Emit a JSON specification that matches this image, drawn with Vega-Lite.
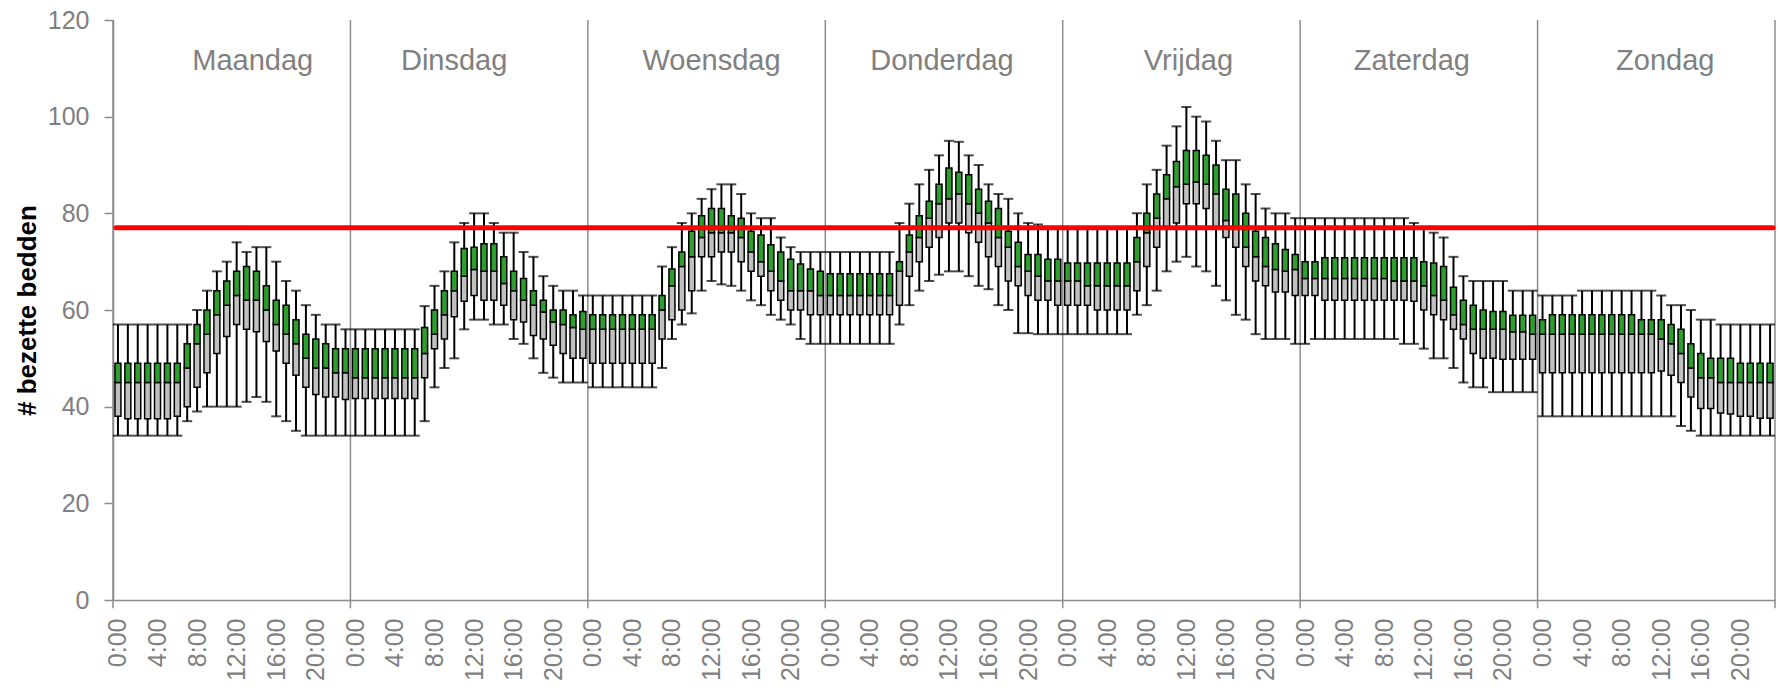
{
  "$schema": "https://vega.github.io/schema/vega-lite/v6.json",
  "width": 1662,
  "height": 580,
  "autosize": {"type": "none"},
  "padding": {"left": 113, "top": 20, "right": 10, "bottom": 88},
  "background": "white",
  "config": {"view": {"stroke": null}, "font": "Liberation Sans"},
  "datasets": {
    "bounds": [{"b": -0.5}, {"b": 23.5}, {"b": 47.5}, {"b": 71.5}, {"b": 95.5}, {"b": 119.5}, {"b": 143.5}, {"b": 167.5}],
    "limit": [{"v": 77}],
    "hours": [
      {"t":0,"day":"Maandag","lo":34,"q1":38,"med":45,"q3":49,"hi":57},
      {"t":1,"day":"Maandag","lo":34,"q1":37.5,"med":45,"q3":49,"hi":57},
      {"t":2,"day":"Maandag","lo":34,"q1":37.5,"med":45,"q3":49,"hi":57},
      {"t":3,"day":"Maandag","lo":34,"q1":37.5,"med":45,"q3":49,"hi":57},
      {"t":4,"day":"Maandag","lo":34,"q1":37.5,"med":45,"q3":49,"hi":57},
      {"t":5,"day":"Maandag","lo":34,"q1":37.5,"med":45,"q3":49,"hi":57},
      {"t":6,"day":"Maandag","lo":34,"q1":38,"med":45,"q3":49,"hi":57},
      {"t":7,"day":"Maandag","lo":37,"q1":40,"med":48,"q3":53,"hi":57},
      {"t":8,"day":"Maandag","lo":39,"q1":44,"med":53,"q3":57,"hi":60},
      {"t":9,"day":"Maandag","lo":40,"q1":47,"med":55,"q3":60,"hi":64},
      {"t":10,"day":"Maandag","lo":40,"q1":51,"med":59,"q3":64,"hi":68},
      {"t":11,"day":"Maandag","lo":40,"q1":54.5,"med":61,"q3":66,"hi":70},
      {"t":12,"day":"Maandag","lo":40,"q1":57,"med":63,"q3":68,"hi":74},
      {"t":13,"day":"Maandag","lo":41,"q1":56,"med":62,"q3":69,"hi":72},
      {"t":14,"day":"Maandag","lo":42,"q1":55.5,"med":62,"q3":68,"hi":73},
      {"t":15,"day":"Maandag","lo":41,"q1":53.5,"med":60,"q3":65,"hi":73},
      {"t":16,"day":"Maandag","lo":38,"q1":51.5,"med":57,"q3":62,"hi":70},
      {"t":17,"day":"Maandag","lo":37,"q1":49,"med":55,"q3":61,"hi":66},
      {"t":18,"day":"Maandag","lo":35,"q1":46.5,"med":53,"q3":58,"hi":64},
      {"t":19,"day":"Maandag","lo":34,"q1":44,"med":50,"q3":55,"hi":61},
      {"t":20,"day":"Maandag","lo":34,"q1":42.5,"med":48,"q3":54,"hi":59},
      {"t":21,"day":"Maandag","lo":34,"q1":42,"med":48,"q3":53,"hi":57},
      {"t":22,"day":"Maandag","lo":34,"q1":42,"med":47,"q3":52,"hi":57},
      {"t":23,"day":"Maandag","lo":34,"q1":41.5,"med":47,"q3":52,"hi":56},
      {"t":24,"day":"Dinsdag","lo":34,"q1":41.7,"med":46,"q3":52,"hi":56},
      {"t":25,"day":"Dinsdag","lo":34,"q1":41.7,"med":46,"q3":52,"hi":56},
      {"t":26,"day":"Dinsdag","lo":34,"q1":41.7,"med":46,"q3":52,"hi":56},
      {"t":27,"day":"Dinsdag","lo":34,"q1":41.7,"med":46,"q3":52,"hi":56},
      {"t":28,"day":"Dinsdag","lo":34,"q1":41.7,"med":46,"q3":52,"hi":56},
      {"t":29,"day":"Dinsdag","lo":34,"q1":41.7,"med":46,"q3":52,"hi":56},
      {"t":30,"day":"Dinsdag","lo":34,"q1":41.7,"med":46,"q3":52,"hi":56},
      {"t":31,"day":"Dinsdag","lo":37,"q1":46,"med":51,"q3":56.4,"hi":60.8},
      {"t":32,"day":"Dinsdag","lo":44,"q1":52,"med":55,"q3":60,"hi":65},
      {"t":33,"day":"Dinsdag","lo":48,"q1":54,"med":59,"q3":64,"hi":68},
      {"t":34,"day":"Dinsdag","lo":50,"q1":58.6,"med":64,"q3":68,"hi":74},
      {"t":35,"day":"Dinsdag","lo":56,"q1":61.8,"med":67,"q3":72.7,"hi":78},
      {"t":36,"day":"Dinsdag","lo":58,"q1":63,"med":68.4,"q3":73,"hi":80},
      {"t":37,"day":"Dinsdag","lo":58,"q1":62,"med":68,"q3":73.7,"hi":80},
      {"t":38,"day":"Dinsdag","lo":57,"q1":62,"med":68,"q3":73.7,"hi":78},
      {"t":39,"day":"Dinsdag","lo":57,"q1":61,"med":65.5,"q3":71,"hi":76},
      {"t":40,"day":"Dinsdag","lo":54,"q1":58,"med":64,"q3":68,"hi":76},
      {"t":41,"day":"Dinsdag","lo":53,"q1":57.5,"med":62,"q3":66.5,"hi":72},
      {"t":42,"day":"Dinsdag","lo":50,"q1":54.7,"med":61,"q3":64,"hi":71},
      {"t":43,"day":"Dinsdag","lo":47,"q1":54,"med":59.6,"q3":62,"hi":67},
      {"t":44,"day":"Dinsdag","lo":46,"q1":52.7,"med":57.5,"q3":60,"hi":65},
      {"t":45,"day":"Dinsdag","lo":45,"q1":51,"med":57,"q3":60,"hi":64},
      {"t":46,"day":"Dinsdag","lo":45,"q1":50,"med":56.4,"q3":59,"hi":64},
      {"t":47,"day":"Dinsdag","lo":45,"q1":50,"med":56,"q3":59.7,"hi":63},
      {"t":48,"day":"Woensdag","lo":44,"q1":49,"med":56,"q3":59,"hi":63},
      {"t":49,"day":"Woensdag","lo":44,"q1":49,"med":56,"q3":59,"hi":63},
      {"t":50,"day":"Woensdag","lo":44,"q1":49,"med":56,"q3":59,"hi":63},
      {"t":51,"day":"Woensdag","lo":44,"q1":49,"med":56,"q3":59,"hi":63},
      {"t":52,"day":"Woensdag","lo":44,"q1":49,"med":56,"q3":59,"hi":63},
      {"t":53,"day":"Woensdag","lo":44,"q1":49,"med":56,"q3":59,"hi":63},
      {"t":54,"day":"Woensdag","lo":44,"q1":49,"med":56,"q3":59,"hi":63},
      {"t":55,"day":"Woensdag","lo":48,"q1":54,"med":60,"q3":63,"hi":69},
      {"t":56,"day":"Woensdag","lo":54,"q1":58,"med":65,"q3":68.5,"hi":73},
      {"t":57,"day":"Woensdag","lo":57,"q1":60,"med":69,"q3":72,"hi":78},
      {"t":58,"day":"Woensdag","lo":59.3,"q1":64,"med":71,"q3":76.3,"hi":80},
      {"t":59,"day":"Woensdag","lo":64,"q1":71,"med":75,"q3":79.5,"hi":83},
      {"t":60,"day":"Woensdag","lo":66,"q1":71,"med":76,"q3":81,"hi":85},
      {"t":61,"day":"Woensdag","lo":65.3,"q1":72,"med":76,"q3":81,"hi":86},
      {"t":62,"day":"Woensdag","lo":65,"q1":72,"med":76,"q3":79.5,"hi":86},
      {"t":63,"day":"Woensdag","lo":64,"q1":70,"med":75,"q3":79,"hi":84},
      {"t":64,"day":"Woensdag","lo":62,"q1":68,"med":72,"q3":76.3,"hi":80},
      {"t":65,"day":"Woensdag","lo":61,"q1":67,"med":70,"q3":75.5,"hi":79},
      {"t":66,"day":"Woensdag","lo":59,"q1":64,"med":68,"q3":73.5,"hi":79},
      {"t":67,"day":"Woensdag","lo":58,"q1":62,"med":66,"q3":72,"hi":75},
      {"t":68,"day":"Woensdag","lo":57,"q1":60,"med":64,"q3":70.5,"hi":73},
      {"t":69,"day":"Woensdag","lo":54,"q1":60,"med":64,"q3":69.5,"hi":72},
      {"t":70,"day":"Woensdag","lo":53,"q1":59,"med":64,"q3":68.5,"hi":72},
      {"t":71,"day":"Woensdag","lo":53,"q1":59,"med":63,"q3":68,"hi":72},
      {"t":72,"day":"Donderdag","lo":53,"q1":59,"med":63,"q3":67.5,"hi":72},
      {"t":73,"day":"Donderdag","lo":53,"q1":59,"med":63,"q3":67.5,"hi":72},
      {"t":74,"day":"Donderdag","lo":53,"q1":59,"med":63,"q3":67.5,"hi":72},
      {"t":75,"day":"Donderdag","lo":53,"q1":59,"med":63,"q3":67.5,"hi":72},
      {"t":76,"day":"Donderdag","lo":53,"q1":59,"med":63,"q3":67.5,"hi":72},
      {"t":77,"day":"Donderdag","lo":53,"q1":59,"med":63,"q3":67.5,"hi":72},
      {"t":78,"day":"Donderdag","lo":53,"q1":59,"med":63,"q3":67.5,"hi":72},
      {"t":79,"day":"Donderdag","lo":57,"q1":61,"med":68,"q3":70,"hi":78},
      {"t":80,"day":"Donderdag","lo":61,"q1":67,"med":72,"q3":75.5,"hi":82},
      {"t":81,"day":"Donderdag","lo":64,"q1":70,"med":75,"q3":79.5,"hi":86},
      {"t":82,"day":"Donderdag","lo":66,"q1":73,"med":79,"q3":82.5,"hi":89},
      {"t":83,"day":"Donderdag","lo":67.3,"q1":75,"med":82,"q3":86,"hi":92},
      {"t":84,"day":"Donderdag","lo":68,"q1":78,"med":83,"q3":89.4,"hi":95},
      {"t":85,"day":"Donderdag","lo":68,"q1":78,"med":84,"q3":88.5,"hi":94.8},
      {"t":86,"day":"Donderdag","lo":67,"q1":76,"med":82,"q3":88,"hi":92},
      {"t":87,"day":"Donderdag","lo":65,"q1":74,"med":80,"q3":85,"hi":90},
      {"t":88,"day":"Donderdag","lo":64.3,"q1":71,"med":78,"q3":82.5,"hi":86},
      {"t":89,"day":"Donderdag","lo":61,"q1":69,"med":75,"q3":81,"hi":84},
      {"t":90,"day":"Donderdag","lo":60,"q1":66,"med":73,"q3":76.3,"hi":83},
      {"t":91,"day":"Donderdag","lo":55.2,"q1":65,"med":69,"q3":74,"hi":80},
      {"t":92,"day":"Donderdag","lo":55.2,"q1":63,"med":68,"q3":71.5,"hi":78},
      {"t":93,"day":"Donderdag","lo":55,"q1":62,"med":67,"q3":71.5,"hi":77.7},
      {"t":94,"day":"Donderdag","lo":55,"q1":62,"med":66,"q3":70.5,"hi":77.2},
      {"t":95,"day":"Donderdag","lo":55,"q1":61,"med":66,"q3":70.5,"hi":77.2},
      {"t":96,"day":"Vrijdag","lo":55,"q1":61,"med":66,"q3":69.7,"hi":77},
      {"t":97,"day":"Vrijdag","lo":55,"q1":61,"med":66,"q3":69.7,"hi":77},
      {"t":98,"day":"Vrijdag","lo":55,"q1":61,"med":65,"q3":69.7,"hi":77},
      {"t":99,"day":"Vrijdag","lo":55,"q1":60,"med":65,"q3":69.7,"hi":77},
      {"t":100,"day":"Vrijdag","lo":55,"q1":60,"med":65,"q3":69.7,"hi":77},
      {"t":101,"day":"Vrijdag","lo":55,"q1":60,"med":65,"q3":69.7,"hi":77},
      {"t":102,"day":"Vrijdag","lo":55,"q1":60,"med":65,"q3":69.7,"hi":77},
      {"t":103,"day":"Vrijdag","lo":59,"q1":64,"med":70,"q3":75,"hi":80},
      {"t":104,"day":"Vrijdag","lo":61,"q1":69,"med":76,"q3":80,"hi":86},
      {"t":105,"day":"Vrijdag","lo":64,"q1":73,"med":79,"q3":84,"hi":89},
      {"t":106,"day":"Vrijdag","lo":68,"q1":77,"med":83,"q3":88,"hi":94},
      {"t":107,"day":"Vrijdag","lo":70,"q1":78,"med":85.5,"q3":90.7,"hi":98},
      {"t":108,"day":"Vrijdag","lo":71,"q1":82,"med":86,"q3":93,"hi":102},
      {"t":109,"day":"Vrijdag","lo":69,"q1":82,"med":86.5,"q3":93,"hi":100},
      {"t":110,"day":"Vrijdag","lo":68,"q1":81,"med":86,"q3":92,"hi":99},
      {"t":111,"day":"Vrijdag","lo":65,"q1":77,"med":84,"q3":90,"hi":95},
      {"t":112,"day":"Vrijdag","lo":62,"q1":75,"med":78.5,"q3":85,"hi":91},
      {"t":113,"day":"Vrijdag","lo":59,"q1":73,"med":77,"q3":84,"hi":91},
      {"t":114,"day":"Vrijdag","lo":58,"q1":69,"med":73,"q3":80,"hi":86},
      {"t":115,"day":"Vrijdag","lo":55,"q1":66,"med":71,"q3":76.3,"hi":84},
      {"t":116,"day":"Vrijdag","lo":54,"q1":65,"med":69,"q3":75,"hi":81},
      {"t":117,"day":"Vrijdag","lo":54,"q1":63.7,"med":68.4,"q3":73.7,"hi":80},
      {"t":118,"day":"Vrijdag","lo":54,"q1":63.7,"med":68,"q3":72.5,"hi":80},
      {"t":119,"day":"Vrijdag","lo":53,"q1":63,"med":68.4,"q3":71.5,"hi":79},
      {"t":120,"day":"Zaterdag","lo":53,"q1":63,"med":66.5,"q3":70,"hi":79},
      {"t":121,"day":"Zaterdag","lo":54,"q1":63,"med":66.5,"q3":70,"hi":79},
      {"t":122,"day":"Zaterdag","lo":54,"q1":62,"med":66.5,"q3":70.8,"hi":79},
      {"t":123,"day":"Zaterdag","lo":54,"q1":62,"med":66.5,"q3":70.8,"hi":79},
      {"t":124,"day":"Zaterdag","lo":54,"q1":62,"med":66.5,"q3":70.8,"hi":79},
      {"t":125,"day":"Zaterdag","lo":54,"q1":62,"med":66.5,"q3":70.8,"hi":79},
      {"t":126,"day":"Zaterdag","lo":54,"q1":62,"med":66.5,"q3":70.8,"hi":79},
      {"t":127,"day":"Zaterdag","lo":54,"q1":62,"med":66.5,"q3":70.8,"hi":79},
      {"t":128,"day":"Zaterdag","lo":54,"q1":62,"med":66.5,"q3":70.8,"hi":79},
      {"t":129,"day":"Zaterdag","lo":54,"q1":62,"med":66,"q3":70.8,"hi":79},
      {"t":130,"day":"Zaterdag","lo":53,"q1":62,"med":66,"q3":70.8,"hi":79},
      {"t":131,"day":"Zaterdag","lo":53,"q1":61.8,"med":66,"q3":70.8,"hi":78},
      {"t":132,"day":"Zaterdag","lo":52,"q1":60,"med":65,"q3":70,"hi":77},
      {"t":133,"day":"Zaterdag","lo":50,"q1":59,"med":63,"q3":69.7,"hi":76},
      {"t":134,"day":"Zaterdag","lo":50,"q1":58,"med":62,"q3":69,"hi":75},
      {"t":135,"day":"Zaterdag","lo":48,"q1":56,"med":59,"q3":64.7,"hi":71},
      {"t":136,"day":"Zaterdag","lo":45,"q1":54,"med":57,"q3":62,"hi":67},
      {"t":137,"day":"Zaterdag","lo":44,"q1":51,"med":56,"q3":61,"hi":66},
      {"t":138,"day":"Zaterdag","lo":44,"q1":50,"med":56,"q3":60,"hi":66},
      {"t":139,"day":"Zaterdag","lo":43,"q1":50,"med":56,"q3":59.7,"hi":66},
      {"t":140,"day":"Zaterdag","lo":43,"q1":49.8,"med":56,"q3":59.7,"hi":66},
      {"t":141,"day":"Zaterdag","lo":43,"q1":49.8,"med":55.5,"q3":58.9,"hi":64},
      {"t":142,"day":"Zaterdag","lo":43,"q1":49.8,"med":55.5,"q3":58.9,"hi":64},
      {"t":143,"day":"Zaterdag","lo":43,"q1":49.8,"med":55,"q3":58.9,"hi":64},
      {"t":144,"day":"Zondag","lo":38,"q1":47,"med":55,"q3":58,"hi":63},
      {"t":145,"day":"Zondag","lo":38,"q1":47,"med":55,"q3":59,"hi":63},
      {"t":146,"day":"Zondag","lo":38,"q1":47,"med":55,"q3":59,"hi":63},
      {"t":147,"day":"Zondag","lo":38,"q1":47,"med":55,"q3":59,"hi":63},
      {"t":148,"day":"Zondag","lo":38,"q1":47,"med":55,"q3":59,"hi":64},
      {"t":149,"day":"Zondag","lo":38,"q1":47,"med":55,"q3":59,"hi":64},
      {"t":150,"day":"Zondag","lo":38,"q1":47,"med":55,"q3":59,"hi":64},
      {"t":151,"day":"Zondag","lo":38,"q1":47,"med":55,"q3":59,"hi":64},
      {"t":152,"day":"Zondag","lo":38,"q1":47,"med":55,"q3":59,"hi":64},
      {"t":153,"day":"Zondag","lo":38,"q1":47,"med":55,"q3":59,"hi":64},
      {"t":154,"day":"Zondag","lo":38,"q1":47,"med":55,"q3":58,"hi":64},
      {"t":155,"day":"Zondag","lo":38,"q1":47,"med":55,"q3":58,"hi":64},
      {"t":156,"day":"Zondag","lo":38,"q1":47.4,"med":54,"q3":58,"hi":63},
      {"t":157,"day":"Zondag","lo":38,"q1":46.5,"med":53,"q3":57,"hi":61},
      {"t":158,"day":"Zondag","lo":36,"q1":45,"med":51,"q3":56,"hi":61},
      {"t":159,"day":"Zondag","lo":35,"q1":42,"med":48,"q3":53,"hi":60},
      {"t":160,"day":"Zondag","lo":34,"q1":39.6,"med":46,"q3":51,"hi":58},
      {"t":161,"day":"Zondag","lo":34,"q1":39.6,"med":46,"q3":50,"hi":58},
      {"t":162,"day":"Zondag","lo":34,"q1":38.7,"med":45,"q3":50,"hi":57},
      {"t":163,"day":"Zondag","lo":34,"q1":38.5,"med":45,"q3":50,"hi":57},
      {"t":164,"day":"Zondag","lo":34,"q1":38,"med":45,"q3":49,"hi":57},
      {"t":165,"day":"Zondag","lo":34,"q1":38,"med":45,"q3":49,"hi":57},
      {"t":166,"day":"Zondag","lo":34,"q1":37.6,"med":45,"q3":49,"hi":57},
      {"t":167,"day":"Zondag","lo":34,"q1":37.6,"med":45,"q3":49,"hi":57}
    ]
  },
  "layer": [
    {
      "data": {"name": "hours"},
      "mark": {"type": "rule", "color": "black", "strokeWidth": 2},
      "encoding": {
        "x": {
          "field": "t", "type": "quantitative", "title": null,
          "scale": {"domain": [-0.5, 167.5], "nice": false, "zero": false, "padding": 0},
          "axis": {
            "values": [0,4,8,12,16,20,24,28,32,36,40,44,48,52,56,60,64,68,72,76,80,84,88,92,96,100,104,108,112,116,120,124,128,132,136,140,144,148,152,156,160,164],
            "labelExpr": "(datum.value % 24) + ':00'",
            "labelAngle": 270,
            "labelAlign": "right",
            "labelBaseline": "middle",
            "ticks": false,
            "grid": false,
            "labelPadding": 18,
            "labelFontSize": 25,
            "labelColor": "#808080",
            "labelFont": "Liberation Sans",
            "labelOverlap": false,
            "labelFlush": false,
            "labelBound": false,
            "domainColor": "#8c8c8c",
            "domainWidth": 1.5
          }
        },
        "y": {
          "field": "lo", "type": "quantitative", "title": "# bezette bedden",
          "scale": {"domain": [0, 120], "nice": false, "padding": 0},
          "axis": {
            "values": [0, 20, 40, 60, 80, 100, 120],
            "grid": false,
            "tickSize": 9,
            "tickColor": "#8c8c8c",
            "tickWidth": 1.5,
            "domainColor": "#8c8c8c",
            "domainWidth": 1.5,
            "labelPadding": 15,
            "labelFontSize": 25,
            "labelColor": "#808080",
            "labelFont": "Liberation Sans",
            "titleFont": "Liberation Sans",
            "titleFontSize": 26,
            "titleFontWeight": "bold",
            "titleColor": "black",
            "titlePadding": 7
          }
        },
        "y2": {"field": "hi"}
      }
    },
    {
      "data": {"name": "bounds"},
      "mark": {"type": "rule", "color": "#8c8c8c", "strokeWidth": 1.5},
      "encoding": {
        "x": {"field": "b", "type": "quantitative", "title": null},
        "y": {"datum": 120, "type": "quantitative", "title": "# bezette bedden"},
        "y2": {"datum": -1.7}
      }
    },
    {
      "data": {"name": "hours"},
      "mark": {"type": "tick", "orient": "horizontal", "color": "black", "size": 10, "thickness": 2},
      "encoding": {
        "x": {"field": "t", "type": "quantitative", "title": null},
        "y": {"field": "lo", "type": "quantitative", "title": "# bezette bedden"}
      }
    },
    {
      "data": {"name": "hours"},
      "mark": {"type": "tick", "orient": "horizontal", "color": "black", "size": 10, "thickness": 2},
      "encoding": {
        "x": {"field": "t", "type": "quantitative", "title": null},
        "y": {"field": "hi", "type": "quantitative", "title": "# bezette bedden"}
      }
    },
    {
      "data": {"name": "hours"},
      "mark": {"type": "bar", "size": 6, "fill": "#c0c0c0", "stroke": "black", "strokeWidth": 1.5},
      "encoding": {
        "x": {"field": "t", "type": "quantitative", "title": null},
        "y": {"field": "q1", "type": "quantitative", "title": "# bezette bedden"},
        "y2": {"field": "med"}
      }
    },
    {
      "data": {"name": "hours"},
      "mark": {"type": "bar", "size": 6, "fill": "#2e9e2e", "stroke": "black", "strokeWidth": 1.5},
      "encoding": {
        "x": {"field": "t", "type": "quantitative", "title": null},
        "y": {"field": "med", "type": "quantitative", "title": "# bezette bedden"},
        "y2": {"field": "q3"}
      }
    },
    {
      "data": {"name": "limit"},
      "mark": {"type": "rule", "color": "#ff0000", "strokeWidth": 5, "strokeCap": "round"},
      "encoding": {
        "y": {"field": "v", "type": "quantitative", "title": "# bezette bedden"},
        "x": {"datum": -0.2},
        "x2": {"datum": 167.3}
      }
    },
    {
      "data": {"name": "hours"},
      "transform": [{"filter": {"field": "day", "equal": "Maandag"}}],
      "mark": {"type": "text", "fontSize": 29, "color": "#808080", "font": "Liberation Sans", "baseline": "alphabetic", "align": "center", "dx": 21},
      "encoding": {
        "x": {"aggregate": "mean", "field": "t", "type": "quantitative", "title": null},
        "y": {"datum": 109.6, "type": "quantitative", "title": "# bezette bedden"},
        "text": {"field": "day"}
      }
    },
    {
      "data": {"name": "hours"},
      "transform": [{"filter": {"field": "day", "equal": "Dinsdag"}}],
      "mark": {"type": "text", "fontSize": 29, "color": "#808080", "font": "Liberation Sans", "baseline": "alphabetic", "align": "center", "dx": -15},
      "encoding": {
        "x": {"aggregate": "mean", "field": "t", "type": "quantitative", "title": null},
        "y": {"datum": 109.6, "type": "quantitative", "title": "# bezette bedden"},
        "text": {"field": "day"}
      }
    },
    {
      "data": {"name": "hours"},
      "transform": [{"filter": {"field": "day", "equal": "Woensdag"}}],
      "mark": {"type": "text", "fontSize": 29, "color": "#808080", "font": "Liberation Sans", "baseline": "alphabetic", "align": "center", "dx": 5},
      "encoding": {
        "x": {"aggregate": "mean", "field": "t", "type": "quantitative", "title": null},
        "y": {"datum": 109.6, "type": "quantitative", "title": "# bezette bedden"},
        "text": {"field": "day"}
      }
    },
    {
      "data": {"name": "hours"},
      "transform": [{"filter": {"field": "day", "equal": "Donderdag"}}],
      "mark": {"type": "text", "fontSize": 29, "color": "#808080", "font": "Liberation Sans", "baseline": "alphabetic", "align": "center", "dx": -2},
      "encoding": {
        "x": {"aggregate": "mean", "field": "t", "type": "quantitative", "title": null},
        "y": {"datum": 109.6, "type": "quantitative", "title": "# bezette bedden"},
        "text": {"field": "day"}
      }
    },
    {
      "data": {"name": "hours"},
      "transform": [{"filter": {"field": "day", "equal": "Vrijdag"}}],
      "mark": {"type": "text", "fontSize": 29, "color": "#808080", "font": "Liberation Sans", "baseline": "alphabetic", "align": "center", "dx": 7},
      "encoding": {
        "x": {"aggregate": "mean", "field": "t", "type": "quantitative", "title": null},
        "y": {"datum": 109.6, "type": "quantitative", "title": "# bezette bedden"},
        "text": {"field": "day"}
      }
    },
    {
      "data": {"name": "hours"},
      "transform": [{"filter": {"field": "day", "equal": "Zaterdag"}}],
      "mark": {"type": "text", "fontSize": 29, "color": "#808080", "font": "Liberation Sans", "baseline": "alphabetic", "align": "center", "dx": -7},
      "encoding": {
        "x": {"aggregate": "mean", "field": "t", "type": "quantitative", "title": null},
        "y": {"datum": 109.6, "type": "quantitative", "title": "# bezette bedden"},
        "text": {"field": "day"}
      }
    },
    {
      "data": {"name": "hours"},
      "transform": [{"filter": {"field": "day", "equal": "Zondag"}}],
      "mark": {"type": "text", "fontSize": 29, "color": "#808080", "font": "Liberation Sans", "baseline": "alphabetic", "align": "center", "dx": 9},
      "encoding": {
        "x": {"aggregate": "mean", "field": "t", "type": "quantitative", "title": null},
        "y": {"datum": 109.6, "type": "quantitative", "title": "# bezette bedden"},
        "text": {"field": "day"}
      }
    }
  ]
}
